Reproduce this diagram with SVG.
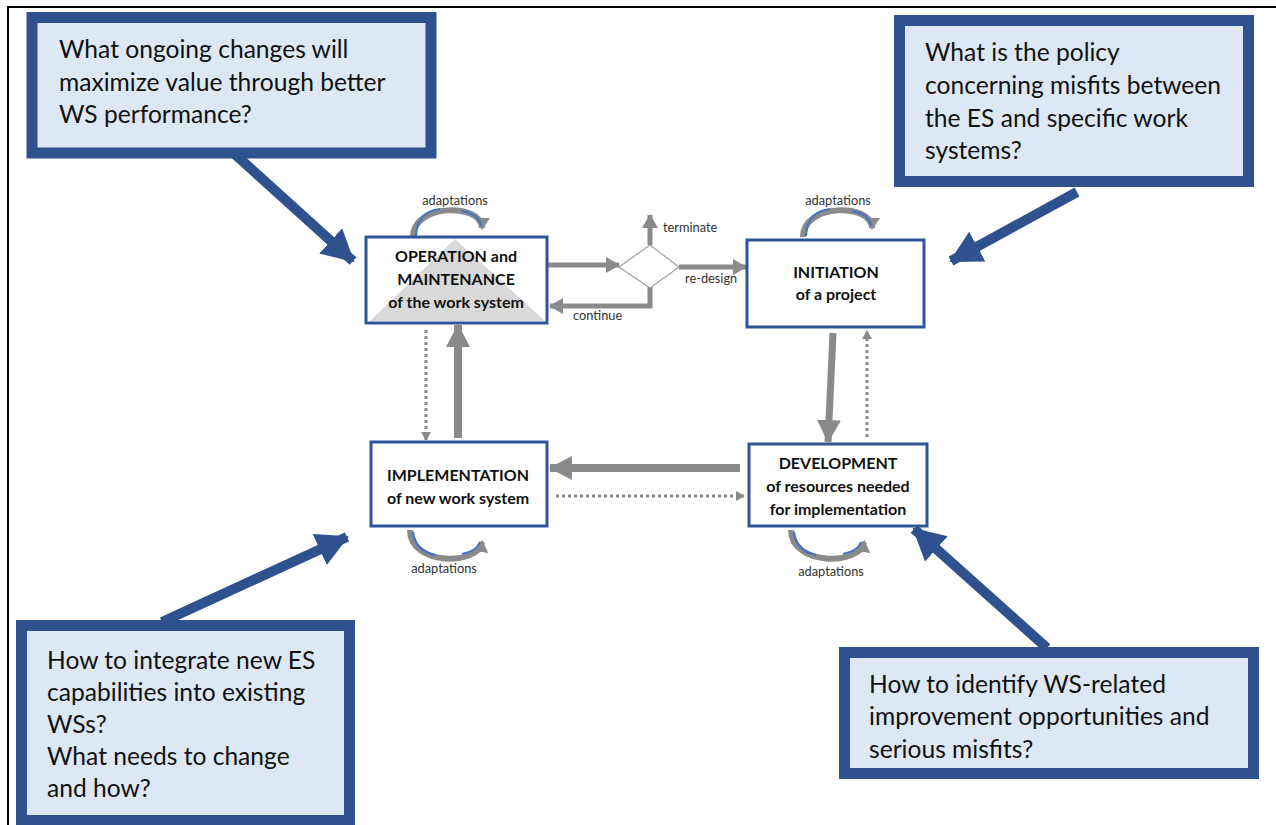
<svg xmlns="http://www.w3.org/2000/svg" width="1276" height="825" viewBox="0 0 1276 825">
  <style>
    .frame { stroke: #000; stroke-width: 2; fill: none; }
    .callout { fill: #dde8f4; stroke: #2f528f; stroke-width: 11; }
    .ctext { font-family: Lato, "Liberation Sans", sans-serif; font-size: 24.6px; fill: #111; }
    .node { fill: #fff; stroke: #2f5597; stroke-width: 3; }
    .ntext { font-family: Lato, "Liberation Sans", sans-serif; font-size: 16px; font-weight: bold; fill: #111; text-anchor: middle; }
    .small { font-family: Lato, "Liberation Sans", sans-serif; font-size: 12.8px; fill: #333; }
    .pointer { stroke: #2f528f; stroke-width: 10; fill: none; marker-end: url(#blueHead); }
    .flow { stroke: #8a8a8a; fill: none; }
    .dot { stroke: #8a8a8a; stroke-width: 3; stroke-dasharray: 3 3; fill: none; marker-end: url(#dotHead); }
    .adapt { stroke: #8a8a8a; stroke-width: 6; fill: none; }
    .adaptBlue { stroke: #4472c4; stroke-width: 2; fill: none; }
  </style>
  <defs>
    <marker id="blueHead" markerUnits="userSpaceOnUse" markerWidth="36" markerHeight="36" refX="30" refY="17" orient="auto">
      <polygon points="0,0 32,17 0,34" fill="#2f528f"/>
    </marker>
    <marker id="grayHead" markerUnits="userSpaceOnUse" markerWidth="16" markerHeight="18" refX="13" refY="8" orient="auto">
      <polygon points="0,0 14,8 0,16" fill="#8a8a8a"/>
    </marker>
    <marker id="bigHead" markerUnits="userSpaceOnUse" markerWidth="26" markerHeight="26" refX="22" refY="12" orient="auto">
      <polygon points="0,0 23,12 0,24" fill="#8a8a8a"/>
    </marker>
    <marker id="dotHead" markerUnits="userSpaceOnUse" markerWidth="12" markerHeight="12" refX="8" refY="5" orient="auto">
      <polygon points="0,0 9,5 0,10" fill="#8a8a8a"/>
    </marker>
    <marker id="adaptHead" markerUnits="userSpaceOnUse" markerWidth="16" markerHeight="18" refX="10" refY="8" orient="auto">
      <polygon points="0,0 12,8 0,16" fill="#8a8a8a"/>
    </marker>
  </defs>

  <!-- outer frame (top and left edges) -->
  <path class="frame" d="M8,825 V7 H1276"/>

  <!-- connectors -->
  <g id="connectors">
    <!-- question pointers -->
    <line class="pointer" x1="228" y1="148" x2="353" y2="261"/>
    <line class="pointer" x1="1077" y1="192" x2="951" y2="261"/>
    <line class="pointer" x1="162" y1="622" x2="347" y2="537"/>
    <line class="pointer" x1="1047" y1="648" x2="914" y2="529"/>

    <!-- operation / decision loop -->
    <line class="flow" stroke-width="5" x1="548" y1="265" x2="619" y2="265" marker-end="url(#grayHead)"/>
    <line class="flow" stroke-width="5" x1="650" y1="245" x2="650" y2="215" marker-end="url(#grayHead)"/>
    <line class="flow" stroke-width="5" x1="679" y1="267" x2="746" y2="267" marker-end="url(#grayHead)"/>
    <path class="flow" stroke-width="5" d="M650,287 V306 H550" marker-end="url(#grayHead)"/>

    <!-- life-cycle arrows between phases -->
    <line class="flow" stroke-width="8" x1="458" y1="438" x2="458" y2="325" marker-end="url(#bigHead)"/>
    <line class="flow" stroke-width="7" x1="833" y1="333" x2="828" y2="442" marker-end="url(#bigHead)"/>
    <line class="flow" stroke-width="8" x1="740" y1="468" x2="550" y2="468" marker-end="url(#bigHead)"/>
    <line class="dot" x1="426" y1="330" x2="426" y2="440"/>
    <line class="dot" x1="867" y1="437" x2="867" y2="331"/>
    <line class="dot" x1="556" y1="496" x2="744" y2="496"/>

    <!-- adaptation loops -->
    <path class="adapt" d="M413,237 C413,203 482,203 482,228" marker-end="url(#adaptHead)"/>
    <path class="adaptBlue" d="M416,236 C417,215 430,210 440,209 M462,211 C472,213 480,218 481,226"/>
    <path class="adapt" d="M803,237 C803,203 872,203 872,228" marker-end="url(#adaptHead)"/>
    <path class="adaptBlue" d="M806,236 C807,215 820,210 830,209 M852,211 C862,213 870,218 871,226"/>
    <path class="adapt" d="M410,530 C410,566 478,566 482,542" marker-end="url(#adaptHead)"/>
    <path class="adaptBlue" d="M413,532 C415,547 425,553 435,555 M462,554 C472,552 478,548 480,542"/>
    <path class="adapt" d="M791,530 C791,566 860,566 864,542" marker-end="url(#adaptHead)"/>
    <path class="adaptBlue" d="M794,532 C796,547 806,553 816,555 M843,554 C853,552 859,548 861,542"/>
  </g>

  <!-- labels on connectors -->
  <g id="connector-labels">
    <text class="small" x="455" y="205" text-anchor="middle">adaptations</text>
    <text class="small" x="838" y="205" text-anchor="middle">adaptations</text>
    <text class="small" x="444" y="573" text-anchor="middle">adaptations</text>
    <text class="small" x="831" y="576" text-anchor="middle">adaptations</text>
    <text class="small" x="663" y="232">terminate</text>
    <text class="small" x="685" y="283">re-design</text>
    <text class="small" x="573" y="320">continue</text>
  </g>

  <!-- decision diamond -->
  <g id="decision">
    <polygon points="619,267 650,245 679,267 650,288" fill="#fff" stroke="#a0a0a0" stroke-width="1.2"/>
  </g>

  <!-- phase nodes -->
  <g id="operation">
    <rect class="node" x="366" y="237" width="181" height="86"/>
    <polygon points="370,321 455,239 545,321" fill="#d9d9d9"/>
    <text class="ntext" x="456" y="262">OPERATION and</text>
    <text class="ntext" x="456" y="285">MAINTENANCE</text>
    <text class="ntext" x="456" y="308">of the work system</text>
  </g>

  <g id="initiation">
    <rect class="node" x="747" y="240" width="177" height="87"/>
    <text class="ntext" x="836" y="278">INITIATION</text>
    <text class="ntext" x="836" y="300">of a project</text>
  </g>

  <g id="implementation">
    <rect class="node" x="371" y="442" width="176" height="84"/>
    <text class="ntext" x="458" y="481">IMPLEMENTATION</text>
    <text class="ntext" x="458" y="504">of new work system</text>
  </g>

  <g id="development">
    <rect class="node" x="749" y="444" width="178" height="82"/>
    <text class="ntext" x="838" y="469">DEVELOPMENT</text>
    <text class="ntext" x="838" y="492">of resources needed</text>
    <text class="ntext" x="838" y="515">for implementation</text>
  </g>

  <!-- question callouts -->
  <g id="q-operation">
    <rect class="callout" x="32" y="17.5" width="399" height="135.5"/>
    <text class="ctext" x="59" y="58">What ongoing changes will</text>
    <text class="ctext" x="59" y="91">maximize value through better</text>
    <text class="ctext" x="59" y="123">WS performance?</text>
  </g>

  <g id="q-initiation">
    <rect class="callout" x="899.5" y="20.5" width="349" height="161"/>
    <text class="ctext" x="925" y="61">What is the policy</text>
    <text class="ctext" x="925" y="94">concerning misfits between</text>
    <text class="ctext" x="925" y="127">the ES and specific work</text>
    <text class="ctext" x="925" y="159">systems?</text>
  </g>

  <g id="q-implementation">
    <rect class="callout" x="21.5" y="625.5" width="328" height="195"/>
    <text class="ctext" x="47" y="669">How to integrate new ES</text>
    <text class="ctext" x="47" y="701">capabilities into existing</text>
    <text class="ctext" x="47" y="733">WSs?</text>
    <text class="ctext" x="47" y="765">What needs to change</text>
    <text class="ctext" x="47" y="797">and how?</text>
  </g>

  <g id="q-development">
    <rect class="callout" x="844.5" y="652.5" width="409" height="121"/>
    <text class="ctext" x="869" y="693">How to identify WS-related</text>
    <text class="ctext" x="869" y="725">improvement opportunities and</text>
    <text class="ctext" x="869" y="758">serious misfits?</text>
  </g>
</svg>
